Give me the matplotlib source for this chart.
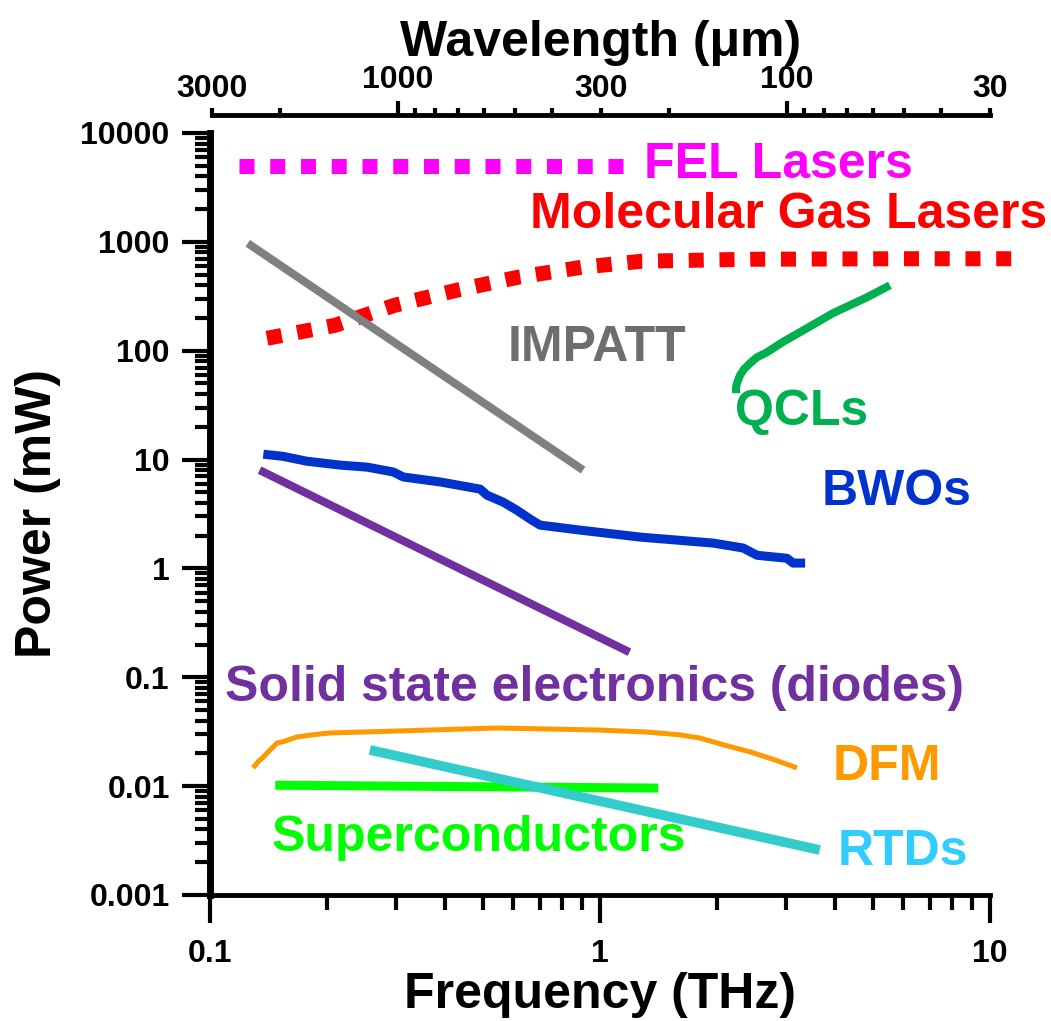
import matplotlib.pyplot as plt
import numpy as np

# frequency in THz, power in mW
fel_freq = [0.119, 1.17]
fel_power = [5000, 5000]

gas_freq = [0.140, 0.209, 0.298, 0.430, 0.616, 0.899, 1.28, 2.43, 5.87, 12.4]
gas_power = [130, 171, 262, 360, 473, 585, 664, 692, 700, 700]

impatt_freq = [0.125, 0.905]
impatt_power = [970, 8.0]

qcl_freq = [2.232, 2.232, 2.245, 2.286, 2.34, 2.424, 2.527, 2.68, 2.94, 3.257,
            3.955, 4.84, 5.54]
qcl_power = [40.7, 45.3, 50.3, 59.6, 67.6, 76.7, 87.1, 96.8, 120, 148,
             221, 310, 399]

bwo_freq = [0.137, 0.154, 0.177, 0.216, 0.253, 0.295, 0.313, 0.389, 0.493,
            0.513, 0.564, 0.612, 0.662, 0.702, 0.889, 1.268, 1.95, 2.328,
            2.529, 3.016, 3.126, 3.357]
bwo_power = [11.2, 10.7, 9.66, 8.89, 8.52, 7.69, 6.92, 6.23, 5.35,
             4.71, 4.07, 3.43, 2.84, 2.50, 2.25, 1.94, 1.71, 1.54,
             1.32, 1.24, 1.12, 1.12]

diode_freq = [0.134, 1.19]
diode_power = [8.0, 0.17]

dfm_freq = [0.129, 0.1327, 0.137, 0.1426, 0.1485, 0.1556, 0.167, 0.1804,
            0.203, 0.302, 0.544, 0.982, 1.32, 1.603, 1.80, 2.09, 2.43,
            2.81, 3.20]
dfm_power = [0.0147, 0.0167, 0.0185, 0.0215, 0.0249, 0.0259, 0.0283, 0.0294,
             0.0308, 0.0321, 0.0342, 0.0328, 0.0314, 0.0296, 0.0277, 0.0238,
             0.0206, 0.0174, 0.0147]

sc_freq = [0.147, 1.41]
sc_power = [0.0102, 0.0096]

rtd_freq = [0.257, 3.66]
rtd_power = [0.0215, 0.00259]

y_ticks = [0.001, 0.01, 0.1, 1, 10, 100, 1000, 10000]
y_labels = ['0.001', '0.01', '0.1', '1', '10', '100', '1000', '10000']
x_ticks = [0.1, 1, 10]
x_labels = ['0.1', '1', '10']

wl_major = [1000, 100]
wl_labeled = [3000, 300, 30]
wl_minor = [2000, 900, 800, 700, 600, 500, 400, 200, 90, 80, 70, 60, 50, 40]


def main():
  plt.rcParams['font.family'] = ['Liberation Sans', 'DejaVu Sans']
  plt.rcParams['font.weight'] = 'bold'
  plt.rcParams['axes.labelweight'] = 'bold'

  fig = plt.figure(figsize=(10.51, 10.21), dpi=100)
  W, H = 1051, 1021
  ax = fig.add_axes([210 / W, 1 - 895 / H, 780 / W, 762 / H])
  ax.set_xscale('log')
  ax.set_yscale('log')
  ax.set_xlim(0.1, 10)
  ax.set_ylim(0.001, 10000)

  dots = (0, (1, 1.05))
  ax.plot(fel_freq, fel_power, color='#FF00FF', lw=10.8, linestyle=dots,
          dash_capstyle='butt')
  ax.plot(gas_freq, gas_power, color='#FF0000', lw=10.8, linestyle=dots,
          dash_capstyle='butt', clip_on=False)
  ax.plot(impatt_freq, impatt_power, color='#808080', lw=5.8, solid_capstyle='butt')
  ax.plot(qcl_freq, qcl_power, color='#00B050', lw=5.8, solid_capstyle='butt',
          solid_joinstyle='round')
  ax.plot(bwo_freq, bwo_power, color='#0033CC', lw=6.5, solid_capstyle='butt')
  ax.plot(diode_freq, diode_power, color='#7030A0', lw=5.8, solid_capstyle='butt')
  ax.plot(dfm_freq, dfm_power, color='#FF9900', lw=3.6, solid_capstyle='butt',
          solid_joinstyle='round')
  ax.plot(sc_freq, sc_power, color='#00FF00', lw=6.5, solid_capstyle='butt')
  ax.plot(rtd_freq, rtd_power, color='#33CCCC', lw=7.0, solid_capstyle='butt')

  fs = 36
  ax.text(1.30, 5050, 'FEL Lasers', color='#FF00FF', fontsize=fs, va='center')
  ax.text(0.662, 1755, 'Molecular Gas Lasers', color='#FF0000', fontsize=fs,
          va='center', clip_on=False)
  ax.text(0.580, 105, 'IMPATT', color='#6E6E6E', fontsize=fs, va='center')
  ax.text(2.22, 27.2, 'QCLs', color='#00B050', fontsize=fs, va='center')
  ax.text(3.71, 5.02, 'BWOs', color='#0033CC', fontsize=fs, va='center')
  ax.text(0.1093, 0.0797, 'Solid state electronics (diodes)', color='#7030A0',
          fontsize=fs, va='center')
  ax.text(3.96, 0.0150, 'DFM', color='#FF9900', fontsize=fs, va='center')
  ax.text(0.144, 0.00334, 'Superconductors', color='#00FF00', fontsize=fs,
          va='center')
  ax.text(4.07, 0.00248, 'RTDs', color='#33CCFF', fontsize=fs, va='center')

  ax.spines['top'].set_visible(False)
  ax.spines['right'].set_visible(False)
  ax.spines['left'].set_linewidth(5)
  ax.spines['bottom'].set_linewidth(3.5)

  ax.set_xticks(x_ticks, x_labels)
  ax.set_yticks(y_ticks, y_labels)
  ax.tick_params(which='major', direction='out', length=20, width=3,
                 labelsize=23, pad=9)
  ax.tick_params(which='minor', direction='out', length=11, width=3)
  ax.tick_params(axis='x', which='major', pad=12)

  ax.set_xlabel('Frequency (THz)', fontsize=36, labelpad=2)
  ax.set_ylabel('Power (mW)', fontsize=36, labelpad=14)

  # wavelength axis on top
  ax2 = fig.add_axes([212 / W, 1 - 115 / H, 778 / W, 0.0001])
  ax2.set_xscale('log')
  ax2.set_xlim(10 ** (-1 + 2 / 390), 10)
  ax2.patch.set_visible(False)
  for side in ['left', 'right', 'bottom']:
    ax2.spines[side].set_visible(False)
  ax2.spines['top'].set_linewidth(3.5)
  ax2.set_yticks([])
  ax2.xaxis.tick_top()
  ax2.set_xticks([300.0 / w for w in wl_major], [str(w) for w in wl_major])
  minor_pos = [300.0 / w for w in wl_labeled + wl_minor]
  minor_lab = [str(w) for w in wl_labeled] + [''] * len(wl_minor)
  ax2.set_xticks(minor_pos, minor_lab, minor=True)
  ax2.tick_params(which='major', direction='out', length=10, width=3,
                  labelsize=23, pad=4)
  ax2.tick_params(which='minor', direction='out', length=5, width=3,
                  labelsize=23, pad=3)
  ax2.set_xlabel('Wavelength (\u03bcm)', fontsize=36, labelpad=7)
  ax2.xaxis.set_label_position('top')

  fig.savefig('out.png', dpi=100)


main()
